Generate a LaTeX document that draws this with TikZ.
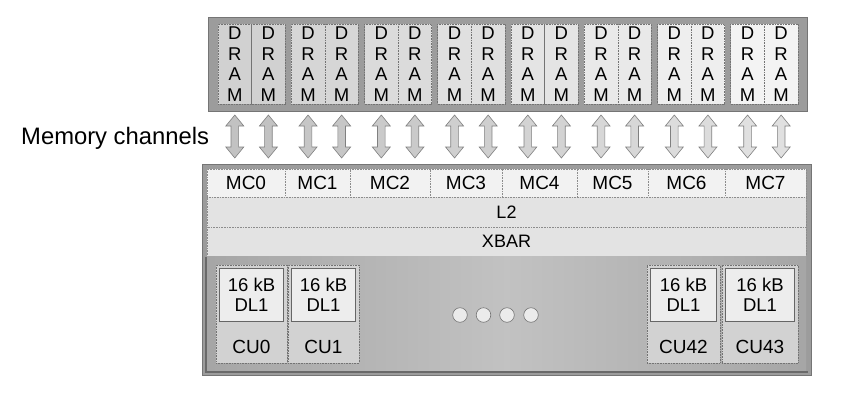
\documentclass[tikz,border=0pt]{standalone}
\usepackage{fontspec}
\setmainfont{Liberation Sans}
\usetikzlibrary{calc}
\definecolor{framegray}{HTML}{9C9C9C}
\definecolor{framedark}{HTML}{6A6A6A}
\definecolor{mcfill}{HTML}{F2F2F2}
\definecolor{rowfill}{HTML}{E3E3E3}
\definecolor{cufill}{HTML}{D2D2D2}
\definecolor{dlfill}{HTML}{EDEDED}
\newcommand{\memarrow}[3]{%
  \filldraw[memarrowstyle, fill=#3] (#1) -- ($(#1)+(9,11)$) -- ($(#1)+(3.8,11)$)
    -- ($(#2)+(3.8,-11)$) -- ($(#2)+(9,-11)$) -- (#2) -- ($(#2)+(-9,-11)$)
    -- ($(#2)+(-3.8,-11)$) -- ($(#1)+(-3.8,11)$) -- ($(#1)+(-9,11)$) -- cycle;}
\begin{document}
\begin{tikzpicture}[x=1pt,y=-1pt,
  frame/.style={fill=framegray, draw=framegray!75!black, line width=0.6pt, inner sep=0pt},
  dramcol/.style={draw=black!55, densely dotted, line width=0.6pt, minimum width=33.6pt,
     minimum height=80pt, inner sep=0pt, align=center, font=\fontsize{18.5}{20.5}\selectfont},
  memarrowstyle/.style={draw=black!50, line width=0.6pt, line join=miter},
  mccell/.style={fill=mcfill, draw=black!45, densely dotted, line width=0.6pt, inner sep=0pt,
     minimum height=28pt, font=\fontsize{19}{22}\selectfont},
  rowcell/.style={fill=rowfill, draw=black!45, densely dotted, line width=0.6pt, inner sep=0pt,
     minimum width=599pt, font=\fontsize{18}{21}\selectfont},
  cubox/.style={fill=cufill, draw=black!55, densely dotted, line width=0.6pt, inner sep=0pt,
     minimum height=98pt},
  dlbox/.style={fill=dlfill, draw=black!60, line width=0.6pt, inner sep=0pt,
     minimum height=53pt, align=center, font=\fontsize{18.5}{20}\selectfont},
  culabel/.style={inner sep=0pt, font=\fontsize{19}{22}\selectfont},
  dot/.style={circle, fill=white!92!black, draw=black!55, line width=0.6pt, minimum size=14.6pt, inner sep=0pt}
]
\useasboundingbox (0,0) rectangle (868,400);
\fill[white] (0,0) rectangle (868,400);

% DRAM block
\node[frame, minimum width=599pt, minimum height=94pt] (drams) at (507.5,64) {};
\foreach \i in {0,...,7}{
  \pgfmathsetmacro{\xa}{234.8+73.25*\i}
  \pgfmathsetmacro{\xb}{\xa+33.6}
  \pgfmathsetmacro{\sh}{18-1.9*\i}
  \pgfmathsetmacro{\ash}{24-1.7*\i}
  \node[dramcol, fill=black!\sh] (da\i) at (\xa,64) {D\\R\\A\\M};
  \node[dramcol, fill=black!\sh] (db\i) at (\xb,64) {D\\R\\A\\M};
  \coordinate (ta\i) at (\xa,115);
  \coordinate (ba\i) at (\xa,158);
  \coordinate (tb\i) at (\xb,115);
  \coordinate (bb\i) at (\xb,158);
  \memarrow{ta\i}{ba\i}{black!\ash}
  \memarrow{tb\i}{bb\i}{black!\ash}
}

\node[anchor=west, inner sep=0pt, font=\fontsize{23.8}{27}\selectfont] (memch) at (21,138) {Memory channels};

% GPU block
\node[frame, minimum width=609pt, minimum height=211pt] (gpu) at (506.5,269.5) {};
\draw[framedark, line width=2pt] (205.5,257) -- (205.5,371.5) -- (808,371.5);

\foreach \l/\r/\n in {207/285/0, 285/350/1, 350/430/2, 430/502/3, 502/577/4, 577/648/5, 648/725/6, 725/806/7}{
  \pgfmathsetmacro{\cx}{(\l+\r)/2}
  \pgfmathsetmacro{\cw}{\r-\l}
  \node[mccell, minimum width=\cw pt] (mc\n) at (\cx,183) {MC\n};
}
\node[rowcell, minimum height=30pt] (l2) at (506.5,212) {L2};
\node[rowcell, minimum height=29pt] (xbar) at (506.5,241.5) {XBAR};

\path[left color=black!35, right color=black!35, middle color=black!24] (207,256) rectangle (806,370);

\foreach \l/\r/\n/\lab in {216/287/0/CU0, 288/359/1/CU1, 647/720/42/CU42, 722/798/43/CU43}{
  \pgfmathsetmacro{\cx}{(\l+\r)/2}
  \pgfmathsetmacro{\cw}{\r-\l}
  \pgfmathsetmacro{\dlw}{\r-\l-7}
  \node[cubox, minimum width=\cw pt] (cu\n) at (\cx,314) {};
  \node[dlbox, minimum width=\dlw pt] (dl\n) at (\cx,294.5) {16 kB\\DL1};
  \node[culabel] (cul\n) at (\cx,347) {\lab};
}

\foreach \x [count=\k] in {460,483.5,507,531}{
  \node[dot] (dot\k) at (\x,315) {};
}
\end{tikzpicture}
\end{document}
